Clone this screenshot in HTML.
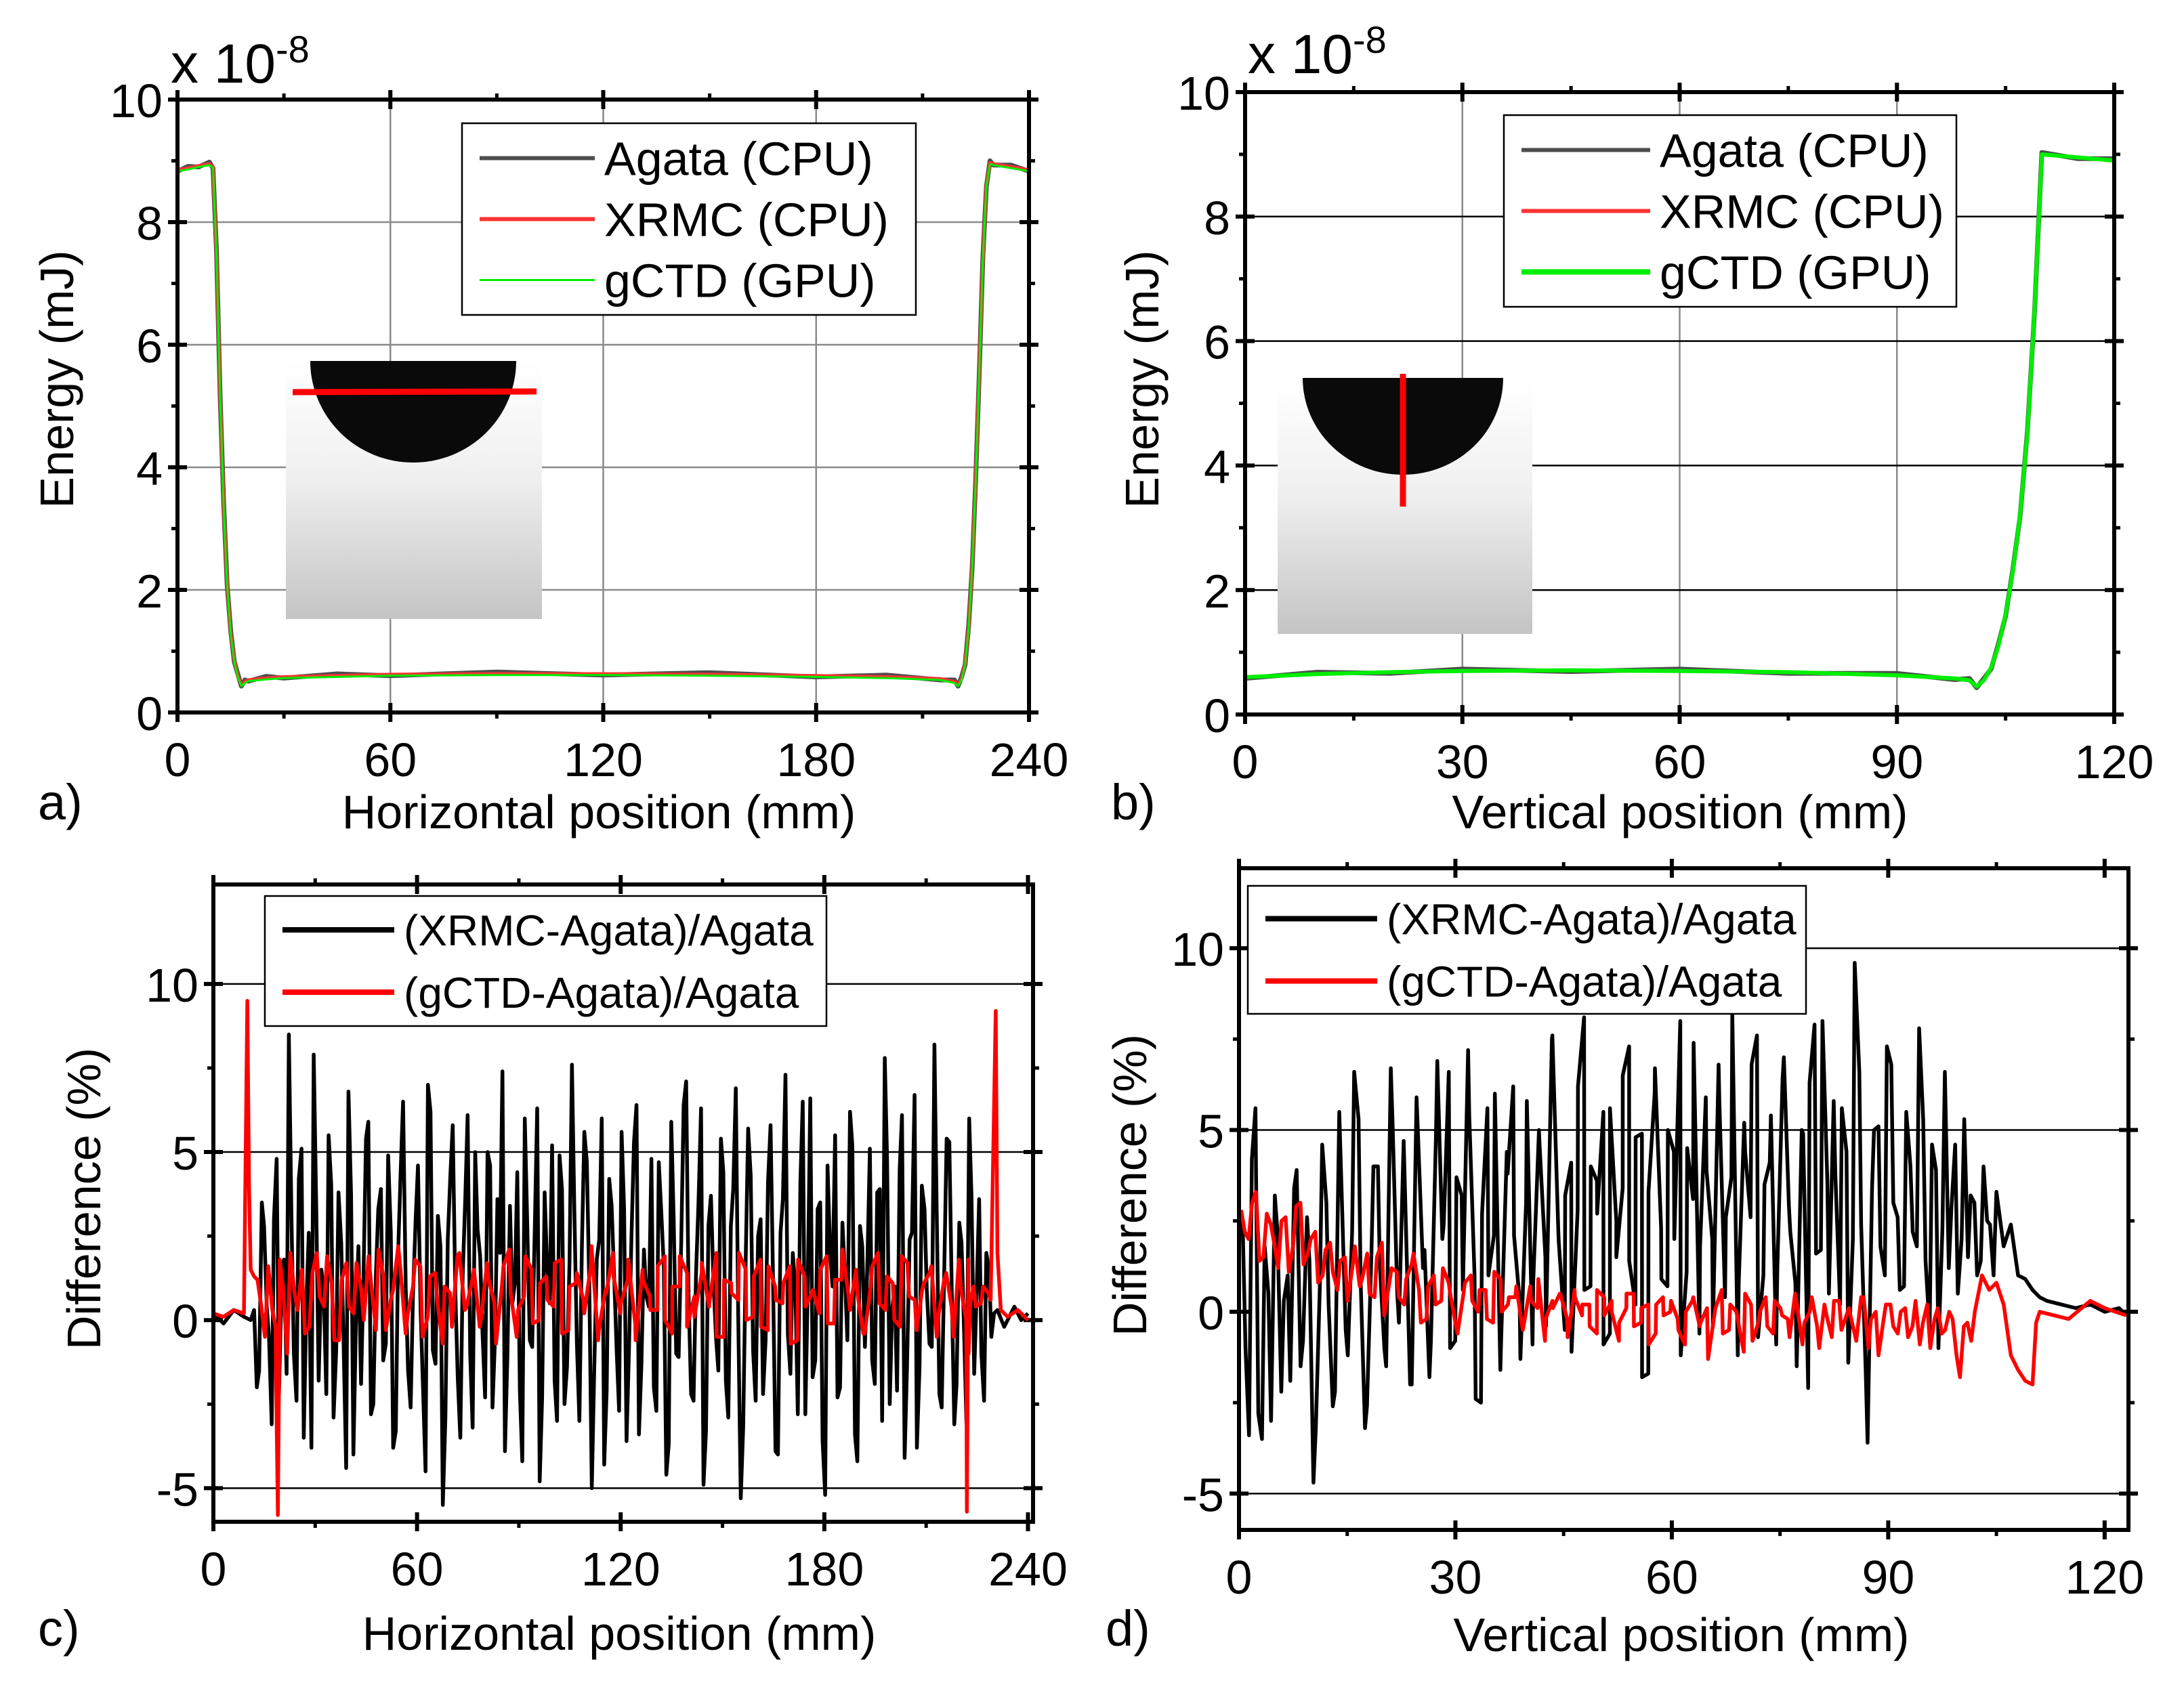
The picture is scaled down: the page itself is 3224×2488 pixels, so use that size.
<!DOCTYPE html>
<html><head><meta charset="utf-8">
<style>
html,body{margin:0;padding:0;background:#fff;}
svg{display:block;font-family:"Liberation Sans",Arial,sans-serif;}
</style></head>
<body>
<svg id="fig" width="3224" height="2488" viewBox="0 0 3224 2488" xmlns="http://www.w3.org/2000/svg">
<defs>
<linearGradient id="insetGrad" x1="0" y1="0" x2="0" y2="1">
<stop offset="0" stop-color="#ffffff"/><stop offset="0.45" stop-color="#f0f0f0"/><stop offset="1" stop-color="#c4c4c4"/>
</linearGradient>
</defs>
</svg>
<script>
// ---------- DATA ----------
const aX = [0,3,6,9,10,11,12,13,14,15,16,17,18,19,20,25,30,45,60,90,120,150,180,200,215,219,220,221,222,223,224,225,226,227,228,229,230,235,240];
const aY = [8.85,8.88,8.92,8.95,8.9,7.5,5.2,3.4,2.1,1.3,0.85,0.6,0.45,0.5,0.53,0.56,0.58,0.6,0.62,0.63,0.63,0.62,0.6,0.58,0.55,0.5,0.45,0.55,0.8,1.4,2.4,3.8,5.6,7.4,8.6,8.97,8.95,8.9,8.85];
const bX = [0,10,20,30,45,60,75,90,98,100,101,102,103,104,105,106,107,108,109,110,115,120];
const bY = [0.6,0.65,0.68,0.7,0.71,0.7,0.68,0.63,0.58,0.55,0.45,0.55,0.75,1.1,1.6,2.3,3.2,4.5,6.5,9.0,8.95,8.9];
const cBlackStart = 12, cBlackEnd = 230;
const cBlack = [0.3,-1.5,2.8,-0.5,3.0,-2.2,1.8,8.5,-1.0,4.2,-3.5,2.6,7.9,-1.8,0.9,5.5,-2.9,3.8,-0.6,6.8,-4.0,2.2,1.1,5.9,-2.5,3.3,-1.2,4.9,-3.8,2.0,6.5,-1.5,0.8,4.6,-2.0,7.0,-0.9,3.1,-5.5,2.4,5.8,-1.7,1.3,6.1,-3.2,2.7,-0.4,5.0,-2.6,3.6,7.4,-1.1,0.5,4.4,-4.2,2.9,-0.8,6.3,-2.3,1.6,5.2,-3.0,3.9,-1.4,7.6,-0.7,2.1,4.7,-5.0,1.8,6.0,-2.1,3.4,-0.9,5.6,-3.6,2.5,6.4,-1.3,0.7,4.8,-2.7,3.2,-4.6,5.9,-1.0,2.3,7.1,-2.2,1.4,6.3,-3.3,3.7,-0.5,5.4,-1.8,2.8,6.9,-5.3,1.9,4.3,-2.4,3.0,-0.6,5.8,-3.9,2.6,7.3,-1.6,0.9,4.1,-2.8,6.6,-1.2,3.5,-5.2,2.0,5.5,-2.0,1.2,6.2,-3.4,2.8,-0.8,5.1,-1.9,3.9,7.8,-2.5,1.0,4.5,-4.1,2.4,6.7,-1.4,3.3,-0.7,8.2,-2.2,1.7,5.3,-3.1,2.9,-0.5,6.0,-1.6,3.6,-2.4,1.5,0.2];
const cBlack2Start = 12.8, cBlack2End = 229.2;
const cBlack2 = [-2.0,3.5,0.4,-3.1,4.8,1.2,-1.6,2.9,-2.4,5.1,0.6,-3.8,3.2,1.5,-2.2,4.0,-0.9,2.3,-4.4,3.7,0.2,-1.9,5.4,-2.8,1.4,3.9,-0.7,2.6,-3.3,4.5,1.0,-2.6,3.0,0.3,-4.5,6.2,-1.3,2.2,-2.9,4.3,0.8,-3.5,3.6,-1.0,5.0,1.9,-2.3,4.6,-0.5,2.0,-3.9,3.4,1.1,-2.1,6.0,-0.6,2.7,-4.8,3.8,0.5,-1.8,4.9,-2.5,1.7,3.1,-3.0,5.6,0.9,-1.4,2.4,-4.3,4.2,1.3,-2.7,3.3,-0.8,5.3,-3.4,2.1,0.4,-2.0,4.7,1.6,-3.7,3.0,-1.1,6.4,0.7,-2.4,3.5,-4.9,2.8,1.2,-1.5,4.4,-2.9,3.9,0.2,-3.2,5.7,-0.9,2.5,-2.2,4.1,1.4,-4.0,3.6,-0.4,2.0,-2.8,6.5,0.8,-1.7,3.3,-3.6,4.6,1.0,-2.3,2.9,-0.6,5.2,-4.2,2.2,1.5,-1.2,3.8,-3.0,4.8,0.3,-2.1,6.1,-1.5,2.6,-3.8,4.0,0.9,-0.8,3.2,-2.6,5.4,1.1,-1.9,2.3,-3.1,3.7,0.6,-1.0,2.0,-0.5];
const cBlackEdgeX = [0,3,6,9,11,231,233,236,238,240];
const cBlackEdgeY = [0.2,-0.1,0.3,0.1,0.0,0.3,-0.2,0.4,0.0,0.2];
const cRedStart = 13, cRedEnd = 229;
const cRed = [1.2,-0.5,0.3,1.8,-1.0,0.8,1.5,-0.2,2.0,0.4,1.1,-0.6,1.7,0.2,0.9,1.9,-0.3,1.3,0.6,2.2,-0.4,1.0,1.6,0.1,1.4,-0.7,0.8,1.9,0.3,1.2,-0.2,1.7,0.5,1.0,2.1,-0.5,0.7,1.5,0.0,1.3,0.4,1.8,-0.3,1.1,0.6,1.6,-0.6,0.9,2.0,0.2,1.2,-0.1,1.5,0.7,0.3,1.9,-0.4,1.0,1.4,0.1,1.7,0.5,-0.5,1.2,0.8,2.0,0.0,1.3,-0.2,1.6,0.6,1.1,-0.7,1.8,0.4,0.9,1.5,-0.1,1.2,2.1,0.3,0.8,-0.4,1.6,0.5,1.3,0.0,1.9,0.7,-0.3,1.1,1.6,0.2,1.4,-0.5,0.9,1.8,0.4,1.0,0.6];
const cRed2Start = 14, cRed2End = 228.3;
const cRed2 = [0.5,1.6,-0.2,1.0,2.0,0.3,-0.4,1.4,0.7,1.9,-0.6,1.2,0.4,1.7,0.0,1.1,2.1,-0.3,0.9,1.5,0.2,1.8,-0.5,1.3,0.6,1.0,-0.2,2.0,0.4,1.5,0.1,1.2,-0.7,1.6,0.8,0.3,1.9,-0.1,1.1,0.6,1.7,-0.4,1.0,1.4,0.2,2.2,-0.3,0.8,1.3,0.5,1.8,-0.6,1.2,0.3,1.6,0.0,1.0,1.9,-0.2,0.7,1.4,0.4,2.0,-0.5,1.1,0.6,1.5,0.1,1.8,-0.3,1.0,0.5,1.6,-0.6,1.3,0.8,0.2,1.9,-0.1,1.2,0.7,1.5,-0.4,1.0,2.0,0.3,1.1,-0.2,1.7,0.6,0.9,1.4,-0.5,1.2,0.4,1.8,0.0,1.0,0.5,0.8];
const cRedEdgeX = [0,3,6,9,10,10.5,11,12,18.5,19,19.5,222,222.5,223,230.5,231,232,234,237,240];
const cRedEdgeY = [0.2,0.1,0.3,0.2,9.5,4.0,1.5,1.3,-2.0,-5.8,0.5,-5.7,-1.0,0.5,9.2,2.0,0.3,0.1,0.3,0.0];
const dBlackStart = 0.5, dBlackEnd = 105;
const dBlack = [2.5,-3.4,5.6,-3.5,0.5,3.2,-2.2,1.0,3.4,-1.5,2.6,-4.7,0.8,3.0,-2.6,5.5,-0.5,2.2,5.3,-3.2,1.6,4.0,-1.0,6.7,0.5,4.7,-2.0,5.9,1.2,-1.8,4.8,2.0,6.6,-0.8,3.2,7.2,1.0,-2.5,5.6,2.1,-1.6,4.4,6.2,0.3,3.0,-0.9,5.0,1.5,7.5,2.2,-0.5,4.1,2.8,8.1,0.7,3.6,5.5,-0.6,2.5,6.5,1.4,4.8,-1.8,3.3,6.7,0.9,5.0,2.0,-1.2,4.5,7.4,1.8,3.9,-0.4,5.8,2.6,8.2,0.8,4.4,6.8,-0.7,3.5,5.4,1.2,7.0,2.2,-1.5,4.9,6.3,1.6,8.0,0.5,3.8,5.6,-1.4,9.6,2.4,-3.6,5.0,1.8,7.3,3.0,0.6,5.5,2.2,7.8,1.4,4.6,-1.0,6.6,2.8,0.5,5.3,3.2,1.0,4.0,2.4,3.3];
const dBlack2Start = 0.9, dBlack2End = 104.6;
const dBlack2 = [-1.0,4.2,-2.8,1.8,-3.0,2.2,0.3,-1.9,3.9,-0.8,1.4,-3.2,4.6,0.2,-2.2,3.5,-1.2,6.6,0.9,-2.6,4.0,1.3,-1.5,5.2,-0.3,3.0,-2.0,4.8,1.7,-0.8,6.9,2.4,-1.0,3.7,0.6,5.4,-2.4,2.7,1.0,6.0,-0.7,3.8,2.1,-1.3,5.8,0.8,4.6,-0.4,7.6,1.9,3.2,-1.1,6.2,0.6,4.0,2.7,-0.9,5.6,1.5,3.4,7.3,0.2,4.9,-1.7,6.0,2.3,0.7,4.4,8.0,1.1,3.1,-0.6,5.9,2.0,6.8,0.4,3.7,-1.2,5.2,2.6,7.6,1.0,4.1,-0.9,6.4,2.9,0.8,5.0,-2.1,7.9,1.7,3.6,5.8,0.2,4.4,2.0,6.6,-1.6,3.4,5.1,1.0,6.8,2.6,0.7,4.0,1.8,5.3,-0.5,3.9,2.3,1.2,4.6,2.0,1.5,3.0,1.4,2.5,1.0];
const dBlackTailX = [106,107,108,109,110,111,112,114,116,118,120,122,123];
const dBlackTailY = [1.8,2.4,1.0,0.9,0.6,0.4,0.3,0.2,0.1,0.2,0.0,0.1,-0.1];
const dRedStart = 0.3, dRedEnd = 102;
const dRed = [2.8,2.0,3.3,1.5,2.4,1.2,2.6,1.8,3.0,1.6,2.2,1.0,1.9,0.6,1.5,1.2,0.7,1.6,0.4,1.9,0.8,1.1,0.2,1.3,0.6,-0.2,1.0,0.3,0.8,-0.4,0.5,1.0,0.0,0.6,-0.3,0.9,0.2,0.4,-0.5,0.7,0.1,-0.8,0.3,0.5,-0.2,0.6,-0.1,0.2,-0.6,0.4,0.0,-0.3,0.5,-0.4,0.1,-0.9,0.2,-0.1,0.3,-0.5,0.0,0.4,-0.3,-1.3,0.1,-0.6,0.2,-0.2,0.5,-0.8,0.0,-0.4,0.3,-0.1,-0.7,0.2,-0.3,0.4,-1.0,-0.1,0.3,-0.5,0.1,-0.8,0.4,-0.2,-1.2,0.2,-0.4,0.0,-0.7,0.3,-0.3,-1.0,0.1,-0.5,-0.2,-1.8,-0.3,0.0];
const dRed2Start = 0.8, dRed2End = 101.5;
const dRed2 = [2.2,3.0,1.4,2.7,1.9,2.5,1.1,2.9,1.3,2.0,0.8,1.7,1.1,1.4,0.3,1.8,0.9,0.5,1.5,-0.1,1.2,0.4,0.9,1.6,-0.3,0.7,0.2,1.2,0.5,-0.6,0.8,0.3,0.6,-0.2,1.1,0.0,0.4,0.7,-0.4,0.3,0.9,-0.2,0.1,0.5,-0.7,0.4,0.2,-0.4,0.6,-0.1,0.3,-0.8,0.1,0.5,-0.3,0.2,-0.6,0.4,0.0,-0.2,-0.9,0.3,-0.4,0.1,-0.1,0.6,-0.5,0.0,-1.1,0.2,-0.3,0.4,-0.6,0.1,-0.2,0.5,-0.9,0.0,-0.4,0.2,-0.7,0.3,-0.1,-0.5,0.4,-1.0,0.0,-0.3,0.2,-0.6,0.1,-0.4,-0.9,0.2,-0.2,-0.6,0.0,-1.2,-0.4,-0.8];
const dRedTailX = [103,104,105,106,107,108,109,110,110.5,111,115,118,120,123];
const dRedTailY = [1.0,0.6,0.8,0.2,-1.2,-1.6,-1.9,-2.0,-0.3,0.0,-0.2,0.3,0.1,-0.1];

const ticksAX = [0,60,120,180,240], ticksAY = [0,2,4,6,8,10];
const ticksBX = [0,30,60,90,120], ticksBY = [0,2,4,6,8,10];
const ticksCX = [0,60,120,180,240], ticksCY = [-5,0,5,10];
const ticksDX = [0,30,60,90,120], ticksDY = [-5,0,5,10];

// ---------- DRAW ----------
const NS = "http://www.w3.org/2000/svg";
const svg = document.getElementById('fig');
function mk(tag, attrs, parent){ const e=document.createElementNS(NS,tag); for(const k in attrs) e.setAttribute(k,attrs[k]); (parent||svg).appendChild(e); return e; }
function txt(s, x, y, size, anchor, parent, extra){ const t=mk('text',Object.assign({x:x,y:y,'font-size':size,'text-anchor':anchor||'middle',fill:'#000'},extra||{}),parent); t.textContent=s; return t; }

function panel(p){
  const g = mk('g',{});
  
  
  const sx = v => p.L + (v - p.x0) / (p.x1 - p.x0) * (p.R - p.L);
  const sy = v => p.B - (v - p.y0) / (p.y1 - p.y0) * (p.B - p.T);
  p.sx = sx; p.sy = sy;
  if (p.vgrid) p.tx.forEach(v => { if (sx(v)>p.L+3 && sx(v)<p.R-3) mk('line',{x1:sx(v),x2:sx(v),y1:p.T,y2:p.B,stroke:'#8a8a8a','stroke-width':2.5},g); });
  p.ty.forEach(v => { const y=sy(v); if (y>p.T+3 && y<p.B-3 && v!==0) mk('line',{x1:p.L,x2:p.R,y1:y,y2:y,stroke:p.gridCol,'stroke-width':2.5},g); });
  const tl=14;
  p.tx.forEach(v => { const x=sx(v);
    mk('line',{x1:x,x2:x,y1:p.B-tl,y2:p.B+tl,stroke:'#000','stroke-width':6},g);
    mk('line',{x1:x,x2:x,y1:p.T-tl,y2:p.T+tl,stroke:'#000','stroke-width':6},g);
    const t=txt(String(v), x, p.B+94, 70, 'middle', g);
    
    
  });
  for (let i=0;i<p.tx.length-1;i++){ const x=sx((p.tx[i]+p.tx[i+1])/2);
    mk('line',{x1:x,x2:x,y1:p.B,y2:p.B+9,stroke:'#000','stroke-width':5},g);
    mk('line',{x1:x,x2:x,y1:p.T-9,y2:p.T,stroke:'#000','stroke-width':5},g); }
  p.ty.forEach(v => { const y=sy(v);
    mk('line',{x1:p.L-tl,x2:p.L+tl,y1:y,y2:y,stroke:'#000','stroke-width':6},g);
    mk('line',{x1:p.R-tl,x2:p.R+tl,y1:y,y2:y,stroke:'#000','stroke-width':6},g);
    const t=txt(String(v), p.L-22, y+26, 70, 'end', g);
    
    
  });
  for (let i=0;i<p.ty.length-1;i++){ const y=sy((p.ty[i]+p.ty[i+1])/2);
    mk('line',{x1:p.L-9,x2:p.L,y1:y,y2:y,stroke:'#000','stroke-width':5},g);
    mk('line',{x1:p.R,x2:p.R+9,y1:y,y2:y,stroke:'#000','stroke-width':5},g); }
  return g;
}
function frame(p, g){ mk('rect',{x:p.L,y:p.T,width:p.R-p.L,height:p.B-p.T,fill:'none',stroke:'#000','stroke-width':6},g); }
function pts(p, xs, ys){ return xs.map((x,i)=>p.sx(x).toFixed(1)+','+p.sy(ys[i]).toFixed(1)).join(' '); }
function seq(start,end,vals){ const n=vals.length; return vals.map((v,i)=> start + (end-start)*i/(n-1)); }
function merge(){ const arr=[]; for(let k=0;k<arguments.length;k+=2){ const xs=arguments[k], ys=arguments[k+1]; xs.forEach((x,i)=>arr.push([x,ys[i]])); } arr.sort((a,b)=>a[0]-b[0]); return [arr.map(a=>a[0]), arr.map(a=>a[1])]; }
function line(p, g, xs, ys, col, w, name){
  const l = mk('polyline',{points:pts(p,xs,ys),fill:'none',stroke:col,'stroke-width':w,'stroke-linejoin':'round'},g);
  
  
  return l;
}
function legend(g, x, y, w, h, entries, fs, rowH, lineLen){
  const lg = mk('g',{},g);
  
  
  mk('rect',{x:x,y:y,width:w,height:h,fill:'#fff',stroke:'#000','stroke-width':2.5},lg);
  entries.forEach((e,i)=>{ const cy=y+rowH*(i+0.5)+ (h-rowH*entries.length)/2;
    const li = mk('line',{x1:x+26,x2:x+26+lineLen,y1:cy,y2:cy,stroke:e.c,'stroke-width':e.w},lg);
    
    
    const t = txt(e.t, x+40+lineLen, cy+fs*0.36, fs, 'start', lg);
    
    
  });
}
function inset(g, x, y, w, h, cx, rx, ry, red){
  const ig = mk('g',{},g);
  
  
  mk('rect',{x:x,y:y,width:w,height:h,fill:'url(#insetGrad)'},ig);
  mk('path',{d:`M${cx-rx},${y} A${rx},${ry} 0 0 0 ${cx+rx},${y} Z`,fill:'#0a0a0a'},ig);
  const r = mk('line',Object.assign({stroke:'#ff0000','stroke-width':9},red),ig);
  
  
}
function scaleFactor(g, x, y){
  const t = mk('text',{x:x,y:y,'font-size':82,fill:'#000'},g);
  
  
  t.appendChild(document.createTextNode('x 10'));
  const s = mk('tspan',{dy:-30,'font-size':56},t); s.textContent='-8';
}

// Panel a
const pa = {name:'panel-a', L:262,R:1519,T:147,B:1052,x0:0,x1:240,y0:0,y1:10,tx:ticksAX,ty:ticksAY,vgrid:true,gridCol:'#8a8a8a'};
let g = panel(pa);
inset(g, 422, 533, 378, 381, 610, 152, 150, {x1:432,x2:792,y1:579,y2:578});
line(pa,g,aX,aY.map((v,i)=>v+(i%2?0.03:-0.02)),'#4d4d4d',7,'series-agata-cpu');
line(pa,g,aX,aY,'#ff3333',5,'series-xrmc-cpu');
line(pa,g,aX,aY.map(v=>v-0.02),'#00ee00',3,'series-gctd-gpu');
frame(pa,g);
legend(g,682,182,670,283,[{t:'Agata (CPU)',c:'#4d4d4d',w:6},{t:'XRMC (CPU)',c:'#ff3333',w:6},{t:'gCTD (GPU)',c:'#00ee00',w:3}],70,90,170);
scaleFactor(g,252,122);
let t = txt('Energy (mJ)',0,0,70,'middle',g,{transform:'translate(108,560) rotate(-90)'}); 
t = txt('Horizontal position (mm)',884,1223,70,'middle',g); 
txt('a)',56,1210,74,'start',g);

// Panel b
const pb = {name:'panel-b', L:1838,R:3121,T:136,B:1055,x0:0,x1:120,y0:0,y1:10,tx:ticksBX,ty:ticksBY,vgrid:true,gridCol:'#000'};
g = panel(pb);
inset(g, 1886, 558, 376, 378, 2071, 148, 143, {x1:2071,x2:2071,y1:552,y2:748});
line(pb,g,bX,bY.map((v,i)=>v+(i%2?0.03:-0.02)),'#4d4d4d',7,'series-agata-cpu');
line(pb,g,bX,bY,'#ff3333',5,'series-xrmc-cpu');
line(pb,g,bX,bY,'#00ee00',6,'series-gctd-gpu');
frame(pb,g);
legend(g,2220,170,668,283,[{t:'Agata (CPU)',c:'#4d4d4d',w:6},{t:'XRMC (CPU)',c:'#ff3333',w:6},{t:'gCTD (GPU)',c:'#00ee00',w:8}],70,90,190);
scaleFactor(g,1842,108);
t = txt('Energy (mJ)',0,0,70,'middle',g,{transform:'translate(1710,560) rotate(-90)'}); 
t = txt('Vertical position (mm)',2480,1223,70,'middle',g); 
txt('b)',1640,1210,74,'start',g);

// Panel c
const pc = {name:'panel-c', L:315,R:1525,T:1306,B:2247,x0:0,x1:241.5,y0:-6,y1:12.96,tx:ticksCX,ty:ticksCY,vgrid:false,gridCol:'#000'};
g = panel(pc);
let m = merge(seq(cBlackStart,cBlackEnd,cBlack),cBlack,seq(cBlack2Start,cBlack2End,cBlack2),cBlack2,cBlackEdgeX,cBlackEdgeY);
line(pc,g,m[0],m[1],'#000',5.5,'series-xrmc-diff');
m = merge(seq(cRedStart,cRedEnd,cRed),cRed,seq(cRed2Start,cRed2End,cRed2),cRed2,cRedEdgeX,cRedEdgeY);
line(pc,g,m[0],m[1],'#ff0000',5.5,'series-gctd-diff');
frame(pc,g);
legend(g,391,1323,829,192,[{t:'(XRMC-Agata)/Agata',c:'#000',w:8},{t:'(gCTD-Agata)/Agata',c:'#ff0000',w:8}],64,92,165);
t = txt('Difference (%)',0,0,70,'middle',g,{transform:'translate(148,1770) rotate(-90)'}); 
t = txt('Horizontal position (mm)',914,2436,70,'middle',g); 
txt('c)',56,2430,74,'start',g);

// Panel d
const pd = {name:'panel-d', L:1829,R:3142,T:1282,B:2259,x0:0,x1:123.3,y0:-6,y1:12.2,tx:ticksDX,ty:ticksDY,vgrid:false,gridCol:'#000'};
g = panel(pd);
m = merge(seq(dBlackStart,dBlackEnd,dBlack),dBlack,seq(dBlack2Start,dBlack2End,dBlack2),dBlack2,dBlackTailX,dBlackTailY);
line(pd,g,m[0],m[1],'#000',5.5,'series-xrmc-diff');
m = merge(seq(dRedStart,dRedEnd,dRed),dRed,seq(dRed2Start,dRed2End,dRed2),dRed2,dRedTailX,dRedTailY);
line(pd,g,m[0],m[1],'#ff0000',5.5,'series-gctd-diff');
frame(pd,g);
legend(g,1842,1308,824,189,[{t:'(XRMC-Agata)/Agata',c:'#000',w:8},{t:'(gCTD-Agata)/Agata',c:'#ff0000',w:8}],64,92,165);
t = txt('Difference (%)',0,0,70,'middle',g,{transform:'translate(1692,1750) rotate(-90)'}); 
t = txt('Vertical position (mm)',2482,2438,70,'middle',g); 
txt('d)',1632,2430,74,'start',g);
</script>
</body></html>
